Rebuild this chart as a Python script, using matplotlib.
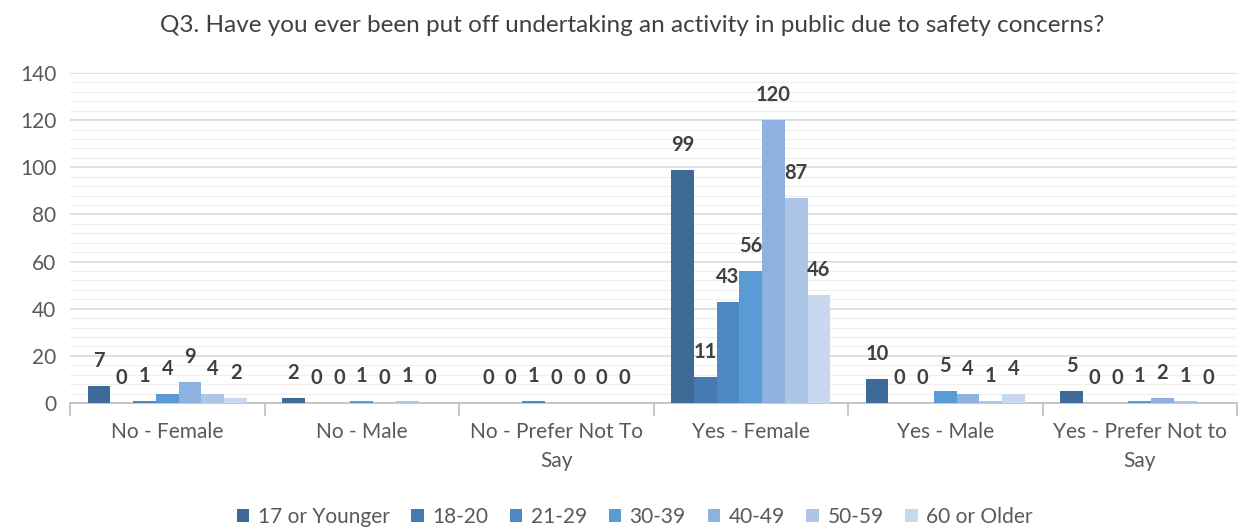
import matplotlib
matplotlib.use('Agg')
import matplotlib.pyplot as plt
import numpy as np

categories = ['No - Female', 'No - Male', 'No - Prefer Not To\nSay',
              'Yes - Female', 'Yes - Male', 'Yes - Prefer Not to\nSay']
age_groups = ['17 or Younger', '18-20', '21-29', '30-39', '40-49', '50-59', '60 or Older']
v_17 = [7, 2, 0, 99, 10, 5]
v_18 = [0, 0, 0, 11, 0, 0]
v_21 = [1, 0, 1, 43, 0, 0]
v_30 = [4, 1, 0, 56, 5, 1]
v_40 = [9, 0, 0, 120, 4, 2]
v_50 = [4, 1, 0, 87, 1, 1]
v_60 = [2, 0, 0, 46, 4, 0]
series = [v_17, v_18, v_21, v_30, v_40, v_50, v_60]
colors = ['#3E6A97', '#4679AF', '#4F88C2', '#5B9BD5', '#8DB2DF', '#ADC6E7', '#C8D8EE']

plt.rcParams['font.family'] = ['Lato', 'DejaVu Sans']

fig = plt.figure(figsize=(12.42, 5.27), dpi=100)
ax = fig.add_axes([0.0564, 0.2353, 0.9396, 0.6262])

x = np.arange(len(categories))
w = 0.117
for i, (vals, c) in enumerate(zip(series, colors)):
    pos = x + (i - 3) * w
    bars = ax.bar(pos, vals, width=w, color=c, label=age_groups[i], zorder=3)
    for p, v in zip(pos, vals):
        ax.annotate(str(v), xy=(p, v), xytext=(0, 18), textcoords='offset points',
                    ha='center', va='center', fontsize=14.5, fontweight='bold',
                    color='#404040', zorder=4)

ax.set_xlim(-0.5, len(categories) - 0.5)
ax.set_ylim(0, 140)
ax.set_yticks(range(0, 141, 20))
ax.set_yticks(range(0, 141, 4), minor=True)
ax.grid(axis='y', which='major', color='#D9D9D9', linewidth=1.2, zorder=0)
ax.grid(axis='y', which='minor', color='#F0F0F0', linewidth=1.0, zorder=0)

ax.set_xticks(x)
ax.set_xticklabels(categories, fontsize=15, color='#595959', linespacing=1.55)
ax.set_xticks(np.arange(-0.5, len(categories), 1), minor=True)
ax.tick_params(axis='x', which='major', length=0, pad=14)
ax.tick_params(axis='x', which='minor', length=9, color='#BFBFBF', width=1.2)
ax.tick_params(axis='y', which='both', length=0, labelsize=15, labelcolor='#595959', pad=10)

for s in ['top', 'right', 'left']:
    ax.spines[s].set_visible(False)
ax.spines['bottom'].set_color('#BFBFBF')
ax.spines['bottom'].set_linewidth(1.2)

fig.suptitle('Q3. Have you ever been put off undertaking an activity in public due to safety concerns?',
             x=0.509, y=0.972, fontsize=17.5, color='#404040')

fig.legend(loc='lower center', bbox_to_anchor=(0.511, -0.035), ncol=7, frameon=False,
           fontsize=15, handlelength=0.6, handleheight=0.6, handletextpad=0.4,
           columnspacing=1.05, labelcolor='#595959')

fig.savefig('out.png', dpi=100)
